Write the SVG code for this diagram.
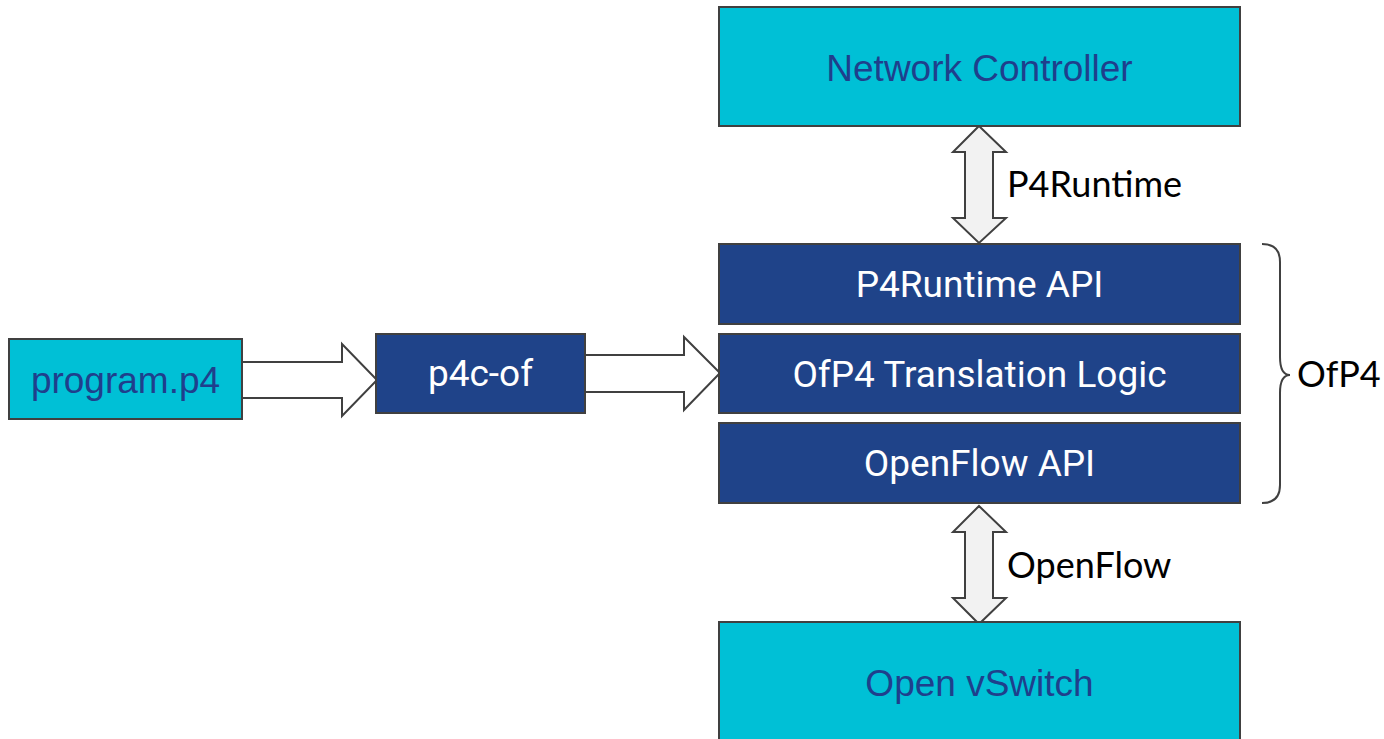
<svg xmlns="http://www.w3.org/2000/svg" width="1384" height="739" viewBox="0 0 1384 739">
<style>
.cy{fill:#00c0d6;stroke:#404040;stroke-width:2}
.db{fill:#1f4389;stroke:#404040;stroke-width:2}
.tc{font-family:"Liberation Sans",Arial,sans-serif;font-size:37px;fill:#1f3f8c;text-anchor:middle}
.tw{font-family:Roboto,"Liberation Sans",sans-serif;font-size:37px;fill:#ffffff;text-anchor:middle}
.lb{font-family:Lato,"Liberation Sans",sans-serif;font-size:36px;fill:#000000}
.ar{fill:#ffffff;stroke:#404040;stroke-width:2;stroke-linejoin:miter}
.da{fill:#f2f2f2;stroke:#404040;stroke-width:2}
.br{fill:none;stroke:#404040;stroke-width:2}
</style>
<g id="connectors">
<path class="ar" d="M242,362 H342 V344 L377,380 L342,416 V398 H242 Z"/>
<path class="ar" d="M585,355 H684 V337 L720,373 L684,410 V392 H585 Z"/>
<path class="da" d="M979,126 L1006,152 H993 V218 H1006 L979,243 L953,218 H965 V152 H953 Z"/>
<path class="da" d="M979,506 L1006,532 H993 V598 H1006 L979,624 L953,598 H965 V532 H953 Z"/>
<path class="br" d="M1262,244 Q1280,244 1280,262 V357 Q1280,375 1290,375 Q1280,375 1280,393 V485 Q1280,503 1262,503"/>
<text class="lb" x="1007" y="197">P4Runtime</text>
<text class="lb" x="1007" y="578">OpenFlow</text>
<text class="lb" x="1297" y="387">OfP4</text>
</g>
<g id="network-controller">
<rect class="cy" x="719" y="7" width="521" height="119"/>
<text class="tc" x="979.5" y="81">Network Controller</text>
</g>
<g id="p4runtime-api">
<rect class="db" x="719" y="244" width="521" height="80"/>
<text class="tw" x="979.5" y="297">P4Runtime API</text>
</g>
<g id="ofp4-translation-logic">
<rect class="db" x="719" y="334" width="521" height="79"/>
<text class="tw" x="979.5" y="387">OfP4 Translation Logic</text>
</g>
<g id="openflow-api">
<rect class="db" x="719" y="423" width="521" height="80"/>
<text class="tw" x="979.5" y="476">OpenFlow API</text>
</g>
<g id="open-vswitch">
<rect class="cy" x="719" y="622" width="521" height="130"/>
<text class="tc" x="979.5" y="696">Open vSwitch</text>
</g>
<g id="program-p4">
<rect class="cy" x="9" y="339" width="233" height="80"/>
<text class="tc" x="125.5" y="393">program.p4</text>
</g>
<g id="p4c-of">
<rect class="db" x="376" y="334" width="209" height="79"/>
<text class="tw" x="480.5" y="386">p4c-of</text>
</g>
</svg>
